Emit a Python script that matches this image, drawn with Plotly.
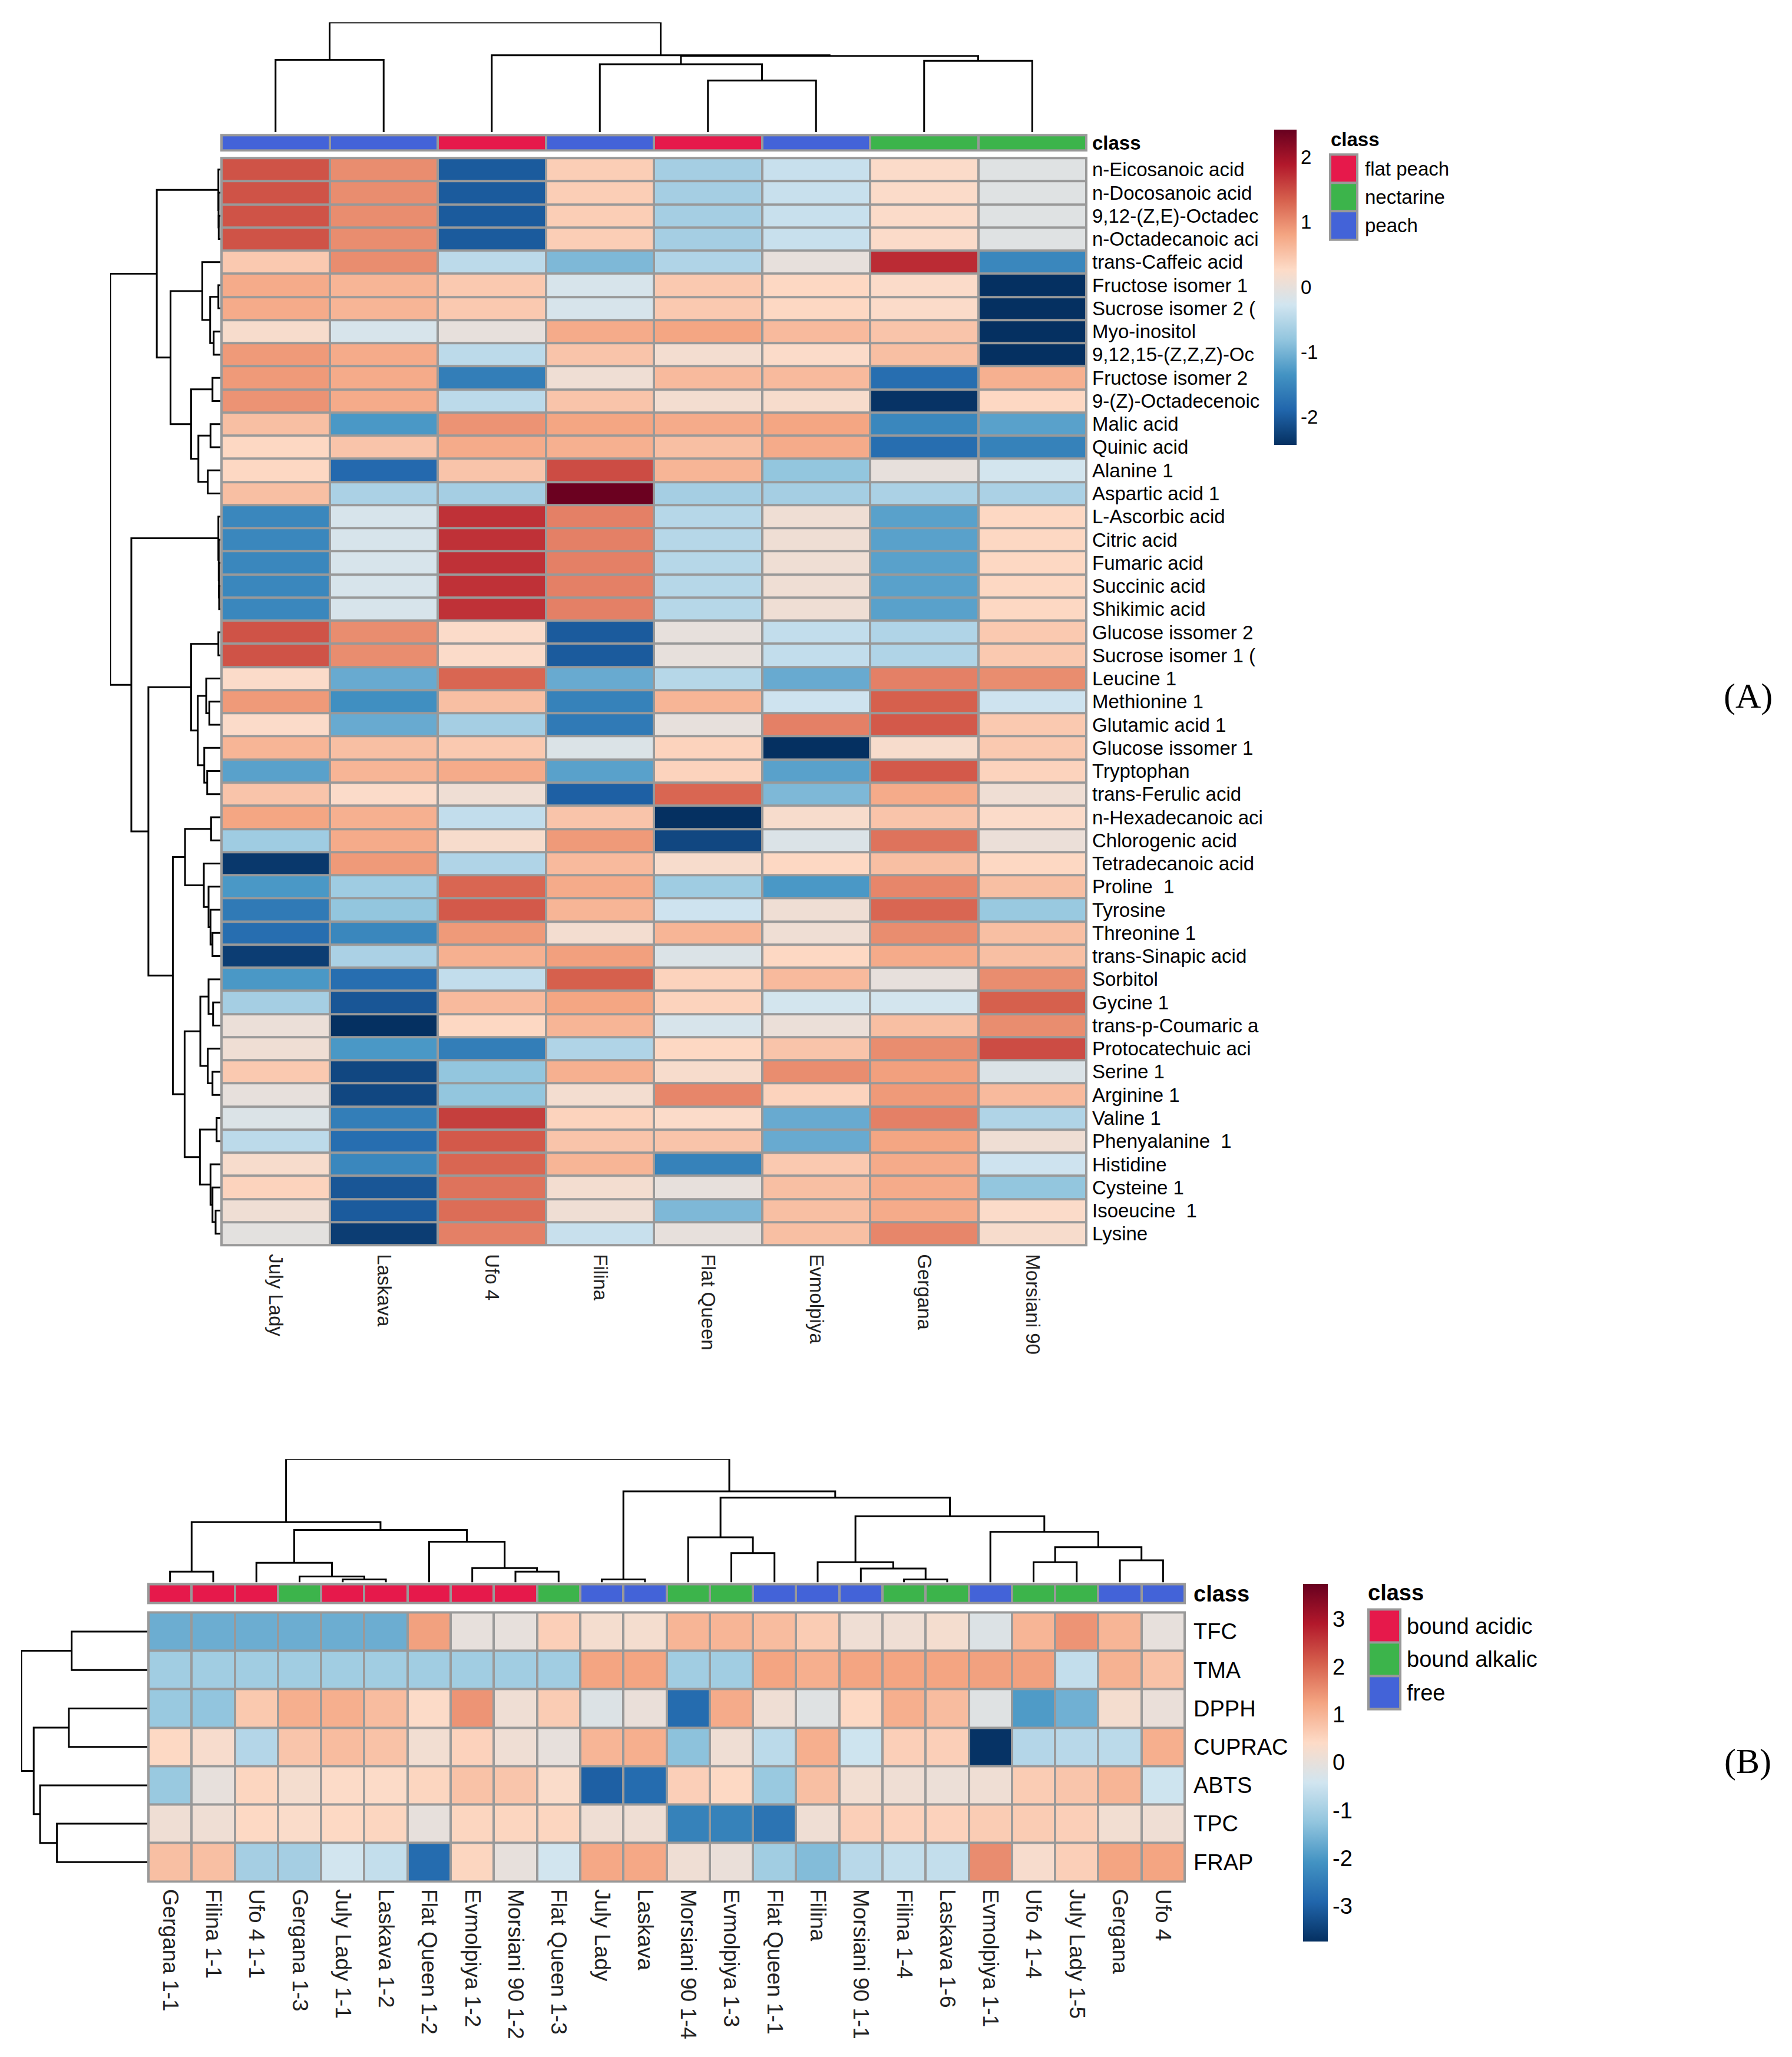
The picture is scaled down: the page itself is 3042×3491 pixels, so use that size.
import plotly.graph_objects as go

W, H = 3042, 3491
OFF = 8  # the page body adds 8 px of margin; positions below are page pixels
FONT = "Liberation Sans, Arial, sans-serif"
SERIF = "Liberation Serif, Times New Roman, serif"
RDBU10 = ["#053061", "#2166AC", "#4393C3", "#92C5DE", "#D1E5F0",
          "#FDDBC7", "#F4A582", "#D6604D", "#B2182B", "#67001F"]
SCALE = [[i / 9, c] for i, c in enumerate(RDBU10)]
CLASS_COLORS = ["#E6194B", "#3CB44B", "#4363D8"]
BORDER = "#999999"

# ---------------------------- Panel A data ----------------------------
samples_a = ["July Lady", "Laskava", "Ufo 4", "Filina", "Flat Queen",
             "Evmolpiya", "Gergana", "Morsiani 90"]
class_names_a = ["flat peach", "nectarine", "peach"]
class_a = ["peach", "peach", "flat peach", "peach", "flat peach", "peach",
           "nectarine", "nectarine"]
compounds_a = [
    "n-Eicosanoic acid", "n-Docosanoic acid", "9,12-(Z,E)-Octadec", "n-Octadecanoic aci",
    "trans-Caffeic acid", "Fructose isomer 1", "Sucrose isomer 2 (", "Myo-inositol",
    "9,12,15-(Z,Z,Z)-Oc", "Fructose isomer 2", "9-(Z)-Octadecenoic", "Malic acid",
    "Quinic acid", "Alanine 1", "Aspartic acid 1", "L-Ascorbic acid", "Citric acid",
    "Fumaric acid", "Succinic acid", "Shikimic acid", "Glucose issomer 2",
    "Sucrose isomer 1 (", "Leucine 1", "Methionine 1", "Glutamic acid 1",
    "Glucose issomer 1", "Tryptophan", "trans-Ferulic acid", "n-Hexadecanoic aci",
    "Chlorogenic acid", "Tetradecanoic acid", "Proline\u00a0 1", "Tyrosine", "Threonine 1",
    "trans-Sinapic acid", "Sorbitol", "Gycine 1", "trans-p-Coumaric a",
    "Protocatechuic aci", "Serine 1", "Arginine 1", "Valine 1", "Phenyalanine\u00a0 1",
    "Histidine", "Cysteine 1", "Isoeucine\u00a0 1", "Lysine"]
values_a = [
    [1.45, 1.0, -2.0, 0.4, -0.65, -0.35, 0.25, -0.1],
    [1.45, 1.0, -2.0, 0.4, -0.65, -0.35, 0.25, -0.1],
    [1.45, 1.0, -2.0, 0.4, -0.65, -0.35, 0.25, -0.1],
    [1.45, 1.0, -2.0, 0.4, -0.65, -0.35, 0.25, -0.1],
    [0.45, 1.0, -0.45, -0.95, -0.55, 0.0, 1.75, -1.5],
    [0.75, 0.65, 0.45, -0.2, 0.45, 0.3, 0.25, -2.43],
    [0.75, 0.65, 0.45, -0.2, 0.45, 0.3, 0.25, -2.43],
    [0.2, -0.2, 0.0, 0.75, 0.8, 0.6, 0.5, -2.43],
    [0.9, 0.75, -0.45, 0.5, 0.15, 0.25, 0.55, -2.43],
    [0.9, 0.75, -1.6, 0.1, 0.6, 0.6, -1.8, 0.7],
    [0.95, 0.75, -0.45, 0.5, 0.15, 0.2, -2.4, 0.3],
    [0.55, -1.3, 0.95, 0.8, 0.75, 0.8, -1.5, -1.2],
    [0.3, 0.5, 0.75, 0.7, 0.55, 0.75, -1.8, -1.55],
    [0.3, -1.85, 0.5, 1.5, 0.65, -0.8, 0.0, -0.25],
    [0.55, -0.6, -0.65, 2.4, -0.65, -0.65, -0.6, -0.6],
    [-1.5, -0.2, 1.7, 1.1, -0.5, 0.1, -1.2, 0.3],
    [-1.5, -0.2, 1.7, 1.1, -0.5, 0.1, -1.2, 0.3],
    [-1.5, -0.2, 1.7, 1.1, -0.5, 0.1, -1.2, 0.3],
    [-1.5, -0.2, 1.7, 1.1, -0.5, 0.1, -1.2, 0.3],
    [-1.5, -0.2, 1.7, 1.1, -0.5, 0.1, -1.2, 0.3],
    [1.45, 1.0, 0.25, -2.0, 0.0, -0.4, -0.55, 0.45],
    [1.45, 1.0, 0.25, -2.0, 0.0, -0.4, -0.55, 0.45],
    [0.25, -1.1, 1.3, -1.1, -0.5, -1.1, 1.1, 1.0],
    [0.9, -1.4, 0.55, -1.55, 0.65, -0.3, 1.35, -0.3],
    [0.25, -1.1, -0.65, -1.65, 0.0, 1.1, 1.4, 0.45],
    [0.65, 0.55, 0.45, -0.15, 0.35, -2.43, 0.2, 0.45],
    [-1.2, 0.65, 0.75, -1.2, 0.35, -1.2, 1.4, 0.35],
    [0.5, 0.25, 0.1, -1.95, 1.3, -0.95, 0.75, 0.1],
    [0.8, 0.7, -0.4, 0.5, -2.43, 0.2, 0.5, 0.25],
    [-0.7, 0.75, 0.2, 0.9, -2.2, -0.15, 1.2, 0.05],
    [-2.35, 0.9, -0.55, 0.6, 0.2, 0.3, 0.55, 0.3],
    [-1.3, -0.7, 1.3, 0.75, -0.7, -1.3, 1.05, 0.55],
    [-1.65, -0.8, 1.4, 0.65, -0.3, 0.1, 1.3, -0.75],
    [-1.8, -1.5, 0.9, 0.15, 0.65, 0.1, 1.0, 0.55],
    [-2.3, -0.6, 0.7, 0.85, -0.15, 0.3, 0.75, 0.55],
    [-1.3, -1.8, -0.4, 1.35, 0.35, 0.6, 0.0, 1.0],
    [-0.65, -2.05, 0.6, 0.8, 0.35, -0.25, -0.25, 1.35],
    [0.05, -2.43, 0.3, 0.65, -0.2, 0.05, 0.55, 1.0],
    [0.1, -1.3, -1.6, -0.55, 0.3, 0.5, 1.0, 1.5],
    [0.45, -2.2, -0.8, 0.7, 0.2, 1.0, 0.85, -0.15],
    [0.0, -2.2, -0.8, 0.15, 1.05, 0.35, 0.9, 0.6],
    [-0.15, -1.6, 1.6, 0.35, 0.25, -1.1, 1.1, -0.55],
    [-0.45, -1.8, 1.4, 0.5, 0.5, -1.1, 0.8, 0.1],
    [0.2, -1.5, 1.3, 0.65, -1.55, 0.45, 0.75, -0.3],
    [0.35, -2.05, 1.2, 0.15, 0.0, 0.55, 0.75, -0.8],
    [0.1, -2.0, 1.25, 0.1, -0.95, 0.55, 0.75, 0.25],
    [-0.05, -2.3, 1.1, -0.35, 0.0, 0.55, 1.05, 0.2],
]
# dendrograms: [child a, child b, merge height]; ids >= n are earlier merges
col_merges_a = [[4, 5, 88], [3, 8, 116], [6, 7, 121.7], [0, 1, 123.3],
                [9, 10, 130], [2, 12, 131.3], [11, 13, 187.3]]
row_merges_a = [
    [2, 3, 2.7], [1, 47, 3.0], [0, 48, 3.3], [5, 6, 3.3], [7, 8, 11.3],
    [50, 51, 17.3], [4, 52, 30.7], [9, 10, 13.3], [11, 12, 16.7], [13, 14, 21.3],
    [55, 56, 37.3], [54, 57, 49.7], [53, 58, 84.7], [49, 59, 108],
    [18, 19, 2.0], [17, 61, 2.3], [16, 62, 2.7], [15, 63, 3.3], [20, 21, 3.3],
    [23, 24, 18.7], [22, 66, 24], [26, 27, 22.3], [25, 68, 27.3], [67, 69, 38.3],
    [65, 70, 49.7], [28, 29, 15.7], [33, 34, 13.3], [32, 73, 16.7], [31, 74, 20],
    [30, 75, 28], [72, 76, 60], [36, 37, 12.3], [35, 78, 20], [39, 40, 13.3],
    [38, 80, 21.3], [79, 81, 34], [41, 42, 6.3], [45, 46, 8], [44, 84, 13.3],
    [43, 85, 16.7], [83, 86, 34.7], [82, 87, 60.7], [77, 88, 80.7],
    [71, 89, 122.3], [64, 90, 151.3], [60, 91, 187.3]]

# ---------------------------- Panel B data ----------------------------
samples_b = ["Gergana 1-1", "Filina 1-1", "Ufo 4 1-1", "Gergana 1-3", "July Lady 1-1",
             "Laskava 1-2", "Flat Queen 1-2", "Evmolpiya 1-2", "Morsiani 90 1-2",
             "Flat Queen 1-3", "July Lady", "Laskava", "Morsiani 90 1-4",
             "Evmolpiya 1-3", "Flat Queen 1-1", "Filina", "Morsiani 90 1-1",
             "Filina 1-4", "Laskava 1-6", "Evmolpiya 1-1", "Ufo 4 1-4",
             "July Lady 1-5", "Gergana", "Ufo 4"]
class_names_b = ["bound acidic", "bound alkalic", "free"]
class_b = ["bound acidic", "bound acidic", "bound acidic", "bound alkalic",
           "bound acidic", "bound acidic", "bound acidic", "bound acidic",
           "bound acidic", "bound alkalic", "free", "free", "bound alkalic",
           "bound alkalic", "free", "free", "free", "bound alkalic",
           "bound alkalic", "free", "bound alkalic", "bound alkalic", "free", "free"]
assays_b = ["TFC", "TMA", "DPPH", "CUPRAC", "ABTS", "TPC", "FRAP"]
values_b = [
    [-1.65, -1.65, -1.65, -1.65, -1.65, -1.65, 1.3, 0.0, 0.0, 0.6, 0.25, 0.25,
     1.0, 1.0, 0.9, 0.65, 0.15, 0.15, 0.25, -0.2, 1.0, 1.45, 1.0, 0.0],
    [-1.05, -1.05, -1.05, -1.05, -1.05, -1.05, -1.05, -1.05, -1.05, -1.05, 1.25, 1.25,
     -1.05, -1.05, 1.25, 1.1, 1.25, 1.25, 1.25, 1.3, 1.3, -0.6, 1.05, 0.8],
    [-1.15, -1.25, 0.7, 1.1, 1.1, 0.9, 0.4, 1.45, 0.15, 0.65, -0.2, 0.05,
     -2.8, 1.15, 0.15, -0.15, 0.45, 1.1, 0.9, -0.15, -1.95, -1.6, 0.25, 0.05],
    [0.45, 0.3, -0.8, 0.75, 0.9, 0.8, 0.2, 0.55, 0.15, 0.0, 1.0, 1.1,
     -1.3, 0.15, -0.7, 1.1, -0.45, 0.6, 0.6, -3.7, -0.8, -0.75, -0.7, 1.1],
    [-1.15, 0.0, 0.5, 0.25, 0.4, 0.4, 0.5, 0.8, 0.75, 0.35, -3.0, -2.8,
     0.6, 0.45, -1.15, 0.85, 0.2, 0.15, 0.1, 0.15, 0.65, 0.75, 1.0, -0.45],
    [0.15, 0.15, 0.45, 0.35, 0.45, 0.5, 0.0, 0.5, 0.5, 0.5, 0.15, 0.15,
     -2.4, -2.4, -2.65, 0.15, 0.6, 0.55, 0.55, 0.65, 0.65, 0.6, 0.2, 0.15],
    [0.85, 0.85, -1.0, -1.0, -0.4, -0.6, -2.8, 0.5, 0.0, -0.4, 1.2, 1.2,
     0.15, 0.05, -1.05, -1.4, -0.75, -0.6, -0.6, 1.55, 0.3, 0.6, 1.25, 1.25],
]
col_merges_b = [
    [0, 1, 18.3], [4, 5, 5], [3, 25, 10], [2, 26, 33.3], [8, 9, 18.3], [7, 28, 24.3],
    [6, 29, 69.3], [27, 30, 89.3], [24, 31, 102.7], [10, 11, 5], [13, 14, 50],
    [12, 34, 76.7], [17, 18, 5], [16, 36, 23.7], [15, 37, 34.3], [20, 21, 34.3],
    [22, 23, 37.7], [39, 40, 60], [19, 41, 86], [38, 42, 112.7], [35, 43, 144.3],
    [33, 44, 155], [32, 45, 210]]
row_merges_b = [[0, 1, 127], [2, 3, 131.7], [5, 6, 151.7], [4, 9, 180],
                [8, 10, 190.7], [7, 11, 211.7]]


# ---------------------------- helpers ----------------------------
def px(x):
    return (x - OFF) / W


def py(y):
    return 1 - (y - OFF) / H


def dendro_xy(merges, n):
    pos = [float(i) for i in range(n)]
    hgt = [0.0] * n
    p, h = [], []
    for a, b, d in merges:
        p += [pos[a], pos[a], pos[b], pos[b], None]
        h += [hgt[a], d, d, hgt[b], None]
        pos.append((pos[a] + pos[b]) / 2)
        hgt.append(d)
    return p, h


fig = go.Figure()
layout = dict(width=W, height=H, margin=dict(l=0, r=0, t=0, b=0),
              paper_bgcolor="white", plot_bgcolor="white",
              font=dict(family=FONT, color="black"), showlegend=False)
shapes, annotations = [], []


def add_axes(idx, xpx, ypx, xkw=None, ykw=None, border=False):
    sfx = "" if idx == 1 else str(idx)
    base = dict(showgrid=False, zeroline=False, showline=False,
                showticklabels=False, ticks="")
    xa = dict(base, domain=[px(xpx[0]), px(xpx[1])], anchor="y" + sfx)
    ya = dict(base, domain=[py(ypx[1]), py(ypx[0])], anchor="x" + sfx)
    xa.update(xkw or {})
    ya.update(ykw or {})
    layout["xaxis" + sfx] = xa
    layout["yaxis" + sfx] = ya
    if border:
        shapes.append(dict(type="rect", xref="x" + sfx + " domain", yref="y" + sfx + " domain",
                           x0=0, x1=1, y0=0, y1=1, fillcolor=BORDER,
                           line=dict(color=BORDER, width=4), layer="below"))
    return "x" + sfx, "y" + sfx


def dendro_trace(p, h, xr, yr, horizontal):
    if horizontal:
        x, y = h, p
    else:
        x, y = p, h
    return go.Scatter(x=x, y=y, mode="lines", line=dict(color="black", width=3),
                      xaxis=xr, yaxis=yr, cliponaxis=False, hoverinfo="skip")


def panel(base_idx, samples, classes, class_names, rows, values, col_m, row_m,
          g, zlim, cticks, fsz, col_fsz):
    n_c, n_r = len(samples), len(rows)
    cls_idx = [[class_names.index(c) for c in classes]]
    class_scale = [[0, CLASS_COLORS[0]], [0.5, CLASS_COLORS[1]], [1, CLASS_COLORS[2]]]
    xr_c = [-0.5, n_c - 0.5]
    # main heatmap
    xm, ym = add_axes(base_idx, g["hx"], g["hy"],
                      dict(range=xr_c, showticklabels=True, tickvals=list(range(n_c)),
                           ticktext=samples, tickangle=90, side="bottom",
                           tickfont=dict(size=col_fsz, color="#222222"),
                           ticklabelstandoff=g["xstand"]),
                      dict(range=[n_r - 0.5, -0.5], showticklabels=True,
                           tickvals=list(range(n_r)), ticktext=rows, side="right",
                           tickfont=dict(size=fsz), ticklabelstandoff=g["ystand"]),
                      border=True)
    fig.add_trace(go.Heatmap(
        z=values, x=list(range(n_c)), y=list(range(n_r)), xaxis=xm, yaxis=ym,
        colorscale=SCALE, zmin=-zlim, zmax=zlim, xgap=4, ygap=4, hoverinfo="skip",
        colorbar=dict(x=px(g["cb_x"][0]), xanchor="left", xpad=0, ypad=0,
                      y=py((g["cb_y"][0] + g["cb_y"][1]) / 2), yanchor="middle",
                      len=(g["cb_y"][1] - g["cb_y"][0]) / H, lenmode="fraction",
                      thickness=g["cb_x"][1] - g["cb_x"][0], thicknessmode="pixels",
                      outlinewidth=0, ticks="", tickvals=cticks,
                      ticktext=[str(t) for t in cticks],
                      tickfont=dict(size=fsz, family=FONT))))
    # class bar
    xc, yc = add_axes(base_idx + 1, g["hx"], g["cy"],
                      dict(range=xr_c),
                      dict(range=[0.5, -0.5], showticklabels=True, tickvals=[0],
                           ticktext=["<b>class</b>"], side="right",
                           tickfont=dict(size=fsz), ticklabelstandoff=g["ystand"]),
                      border=True)
    fig.add_trace(go.Heatmap(z=cls_idx, x=list(range(n_c)), y=[0], xaxis=xc, yaxis=yc,
                             colorscale=class_scale, zmin=0, zmax=2, showscale=False,
                             xgap=4, ygap=4, hoverinfo="skip"))
    # column dendrogram
    p, h = dendro_xy(col_m, n_c)
    xd, yd = add_axes(base_idx + 2, g["hx"], g["cdy"],
                      dict(range=xr_c), dict(range=[0, col_m[-1][2]]))
    fig.add_trace(dendro_trace(p, h, xd, yd, False))
    # row dendrogram
    p, h = dendro_xy(row_m, n_r)
    xd, yd = add_axes(base_idx + 3, g["rdx"], g["hy"],
                      dict(range=[row_m[-1][2], 0]), dict(range=[n_r - 0.5, -0.5]))
    fig.add_trace(dendro_trace(p, h, xd, yd, True))
    # class legend
    xl, yl = add_axes(base_idx + 4, g["lx"], g["ly"],
                      dict(range=[-0.5, 0.5]),
                      dict(range=[2.5, -0.5], showticklabels=True, tickvals=[0, 1, 2],
                           ticktext=class_names, side="right",
                           tickfont=dict(size=fsz), ticklabelstandoff=g["lstand"]),
                      border=True)
    fig.add_trace(go.Heatmap(z=[[0], [1], [2]], x=[0], y=[0, 1, 2], xaxis=xl, yaxis=yl,
                             colorscale=class_scale, zmin=0, zmax=2, showscale=False,
                             xgap=4, ygap=4, hoverinfo="skip"))
    annotations.append(dict(x=px(g["lt"][0]), y=py(g["lt"][1]), xref="paper",
                            yref="paper", xanchor="left", yanchor="middle",
                            text="<b>class</b>", showarrow=False,
                            font=dict(size=fsz, family=FONT, color="black")))
    annotations.append(dict(x=px(g["tag"][0]), y=py(g["tag"][1]), xref="paper",
                            yref="paper", xanchor="center", yanchor="middle",
                            text=g["tagtext"], showarrow=False,
                            font=dict(size=60, family=SERIF, color="black")))


geo_a = dict(hx=(376, 1844), hy=(264, 2115), cy=(225, 251), cdy=(33, 220),
             rdx=(187, 374), cb_x=(2163, 2201), cb_y=(215, 752),
             lx=(2258, 2304), ly=(258, 403), lt=(2257, 232), lstand=12,
             xstand=14, ystand=9, tag=(2967, 1180), tagtext="(A)")
geo_b = dict(hx=(252, 2011), hy=(2740, 3198), cy=(2692, 2724), cdy=(2479, 2689),
             rdx=(36, 250), cb_x=(2212, 2254), cb_y=(2691, 3300),
             lx=(2323, 2377), ly=(2735, 2905), lt=(2320, 2707), lstand=10,
             xstand=12, ystand=14, tag=(2967, 2993), tagtext="(B)")

panel(1, samples_a, class_a, class_names_a, compounds_a, values_a, col_merges_a,
      row_merges_a, geo_a, 2.43, [-2, -1, 0, 1, 2], 33, 33)
panel(6, samples_b, class_b, class_names_b, assays_b, values_b, col_merges_b,
      row_merges_b, geo_b, 3.74, [-3, -2, -1, 0, 1, 2, 3], 38, 37)

layout["shapes"] = shapes
layout["annotations"] = annotations
fig.update_layout(**layout)
fig.write_html("out.html")
